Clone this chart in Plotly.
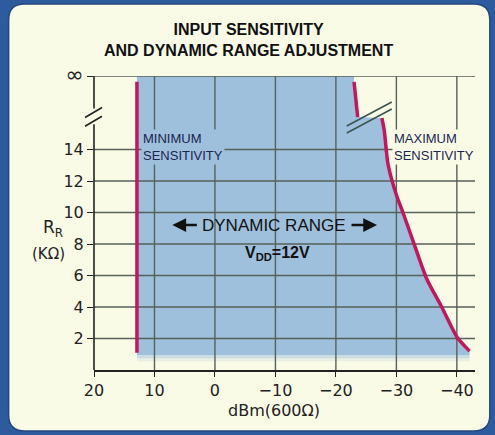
import plotly.graph_objects as go

# ---- data -------------------------------------------------------------
x_ticks = [20, 10, 0, -10, -20, -30, -40]
x_tick_text = ["20", "10", "0", "\u221210", "\u221220", "\u221230", "\u221240"]
y_ticks = [2, 4, 6, 8, 10, 12, 14]
INF = 18.67                      # plotted height of the "infinity" row

# minimum-sensitivity limit (vertical line)
min_dbm = [12.9, 12.9]
min_rr = [1.1, 18.3]

# maximum-sensitivity limit, part above the axis break
max_top_dbm = [-23.0, -23.6]
max_top_rr = [18.3, 16.06]

# maximum-sensitivity limit, part below the axis break
max_dbm = [-27.6, -28.0, -28.6, -30.1, -30.9, -32.7, -35.0, -37.5, -40.0, -42.1]
max_rr = [16.0, 15.2, 13.1, 11.0, 10.2, 8.25, 5.8, 4.0, 2.1, 1.2]

FILL_BOTTOM = 0.95

# ---- geometry ---------------------------------------------------------
W, H = 495, 435
X_RANGE = [20, -43]
Y_RANGE = [0, INF]
ML, MR, MT, MB = 93.5, 19.85, 75.94, 65
PW, PH = W - ML - MR, H - MT - MB


def px(xp):
    return (xp - ML) / PW


def py(yp):
    return (H - MB - yp) / PH


RED = "#c2185b"
FILL = "#9ec0dc"
GRID = "#56615a"
INK = "#222222"
CREAM = "#fafbe7"
NAVY = "#1c2450"

fig = go.Figure()

# shaded dynamic range
fx = [min_dbm[0], max_top_dbm[0]] + max_top_dbm + max_dbm + [max_dbm[-1], min_dbm[0]]
fy = [INF, INF] + max_top_rr + max_rr + [FILL_BOTTOM, FILL_BOTTOM]
fig.add_trace(go.Scatter(x=fx, y=fy, fill="toself", fillcolor=FILL,
                         line=dict(width=0), mode="lines", hoverinfo="skip"))
# soft lower edge of the shading
for lo, hi, a in [(0.75, FILL_BOTTOM, 0.5), (0.55, 0.75, 0.2)]:
    fig.add_trace(go.Scatter(
        x=[min_dbm[0], max_dbm[-1], max_dbm[-1], min_dbm[0]],
        y=[lo, lo, hi, hi], fill="toself",
        fillcolor=f"rgba(158,192,220,{a})", line=dict(width=0),
        mode="lines", hoverinfo="skip"))

# grid drawn over the shading
gx, gy = [], []
for v in x_ticks[1:]:
    gx += [v, v, None]
    gy += [0, INF, None]
for v in y_ticks + [INF]:
    gx += [X_RANGE[0], X_RANGE[1], None]
    gy += [v, v, None]
fig.add_trace(go.Scatter(x=gx, y=gy, mode="lines",
                         line=dict(color=GRID, width=1.4), hoverinfo="skip"))

# limit curves
fig.add_trace(go.Scatter(x=min_dbm, y=min_rr, mode="lines",
                         line=dict(color=RED, width=3.5)))
fig.add_trace(go.Scatter(x=max_top_dbm, y=max_top_rr, mode="lines",
                         line=dict(color=RED, width=3.5)))
fig.add_trace(go.Scatter(x=max_dbm, y=max_rr, mode="lines",
                         line=dict(color=RED, width=3.5, shape="spline", smoothing=0.6)))

shapes = []
# panel with rounded corners
x0p, x1p, y0p, y1p, r = 8, 490, 4, 431, 16
path = (f"M {px(x0p + r)},{py(y0p)} L {px(x1p - r)},{py(y0p)} "
        f"Q {px(x1p)},{py(y0p)} {px(x1p)},{py(y0p + r)} "
        f"L {px(x1p)},{py(y1p - r)} Q {px(x1p)},{py(y1p)} {px(x1p - r)},{py(y1p)} "
        f"L {px(x0p + r)},{py(y1p)} Q {px(x0p)},{py(y1p)} {px(x0p)},{py(y1p - r)} "
        f"L {px(x0p)},{py(y0p + r)} Q {px(x0p)},{py(y0p)} {px(x0p + r)},{py(y0p)} Z")
shapes.append(dict(type="path", xref="paper", yref="paper", path=path,
                   fillcolor=CREAM, line=dict(color="#24477e", width=1.5),
                   layer="below"))

# broken y-axis line
for a, b in [(0, 15.6), (16.6, INF)]:
    shapes.append(dict(type="line", xref="paper", yref="y", x0=0, x1=0, y0=a, y1=b,
                       line=dict(color=INK, width=1.6)))
for yc in [15.8, 16.35]:
    shapes.append(dict(type="line", xref="paper", yref="y",
                       xsizemode="pixel", xanchor=0, x0=-9, x1=8,
                       ysizemode="pixel", yanchor=yc, y0=-5, y1=5,
                       line=dict(color=INK, width=1.6)))
# break marks on the maximum-sensitivity curve
bx = (max_top_dbm[-1] + max_dbm[0]) / 2
by = (max_top_rr[-1] + max_rr[0]) / 2
for off in [-3.5, 3.5]:
    shapes.append(dict(type="line", xref="x", yref="y",
                       xsizemode="pixel", xanchor=bx, x0=-23, x1=22,
                       ysizemode="pixel", yanchor=by, y0=-12 + off, y1=12 + off,
                       line=dict(color="#3a5552", width=1.6)))


def label(xp, yp, text, size, family="Liberation Sans", color="#111",
          xanchor="center", **kw):
    return dict(xref="paper", yref="paper", x=px(xp), y=py(yp), text=text,
                showarrow=False, xanchor=xanchor, yanchor="middle",
                font=dict(family=family, size=size, color=color), **kw)


ann = [
    label(248, 40, "<b>INPUT SENSITIVITY<br>AND DYNAMIC RANGE ADJUSTMENT</b>", 16),
    label(141, 147, "MINIMUM<br>SENSITIVITY", 13, color=NAVY, xanchor="left",
          align="left", bgcolor=FILL, borderpad=1),
    label(392, 147, "MAXIMUM<br>SENSITIVITY", 13, color=NAVY, xanchor="left",
          align="left", bgcolor=CREAM, borderpad=1),
    label(274, 225, "DYNAMIC RANGE", 17),
    label(277, 253, "<b>V<sub>DD</sub>=12V</b>", 16),
    label(52, 228, "R<sub>R</sub>", 17, family="DejaVu Sans", color=INK),
    label(48, 254, "(K\u03a9)", 15, family="DejaVu Sans", color=INK),
    label(274, 411, "dBm(600\u03a9)", 16, family="DejaVu Sans", color=INK),
]
# arrows either side of the range label
for tip, tail in [(172, 198), (377, 350)]:
    ann.append(dict(xref="paper", yref="paper", x=px(tip), y=py(225),
                    ax=tail - tip, ay=0, text="", showarrow=True,
                    arrowhead=2, arrowsize=1.1, arrowwidth=2.5, arrowcolor="#111"))

fig.update_layout(
    width=W, height=H,
    margin=dict(l=ML, r=MR, t=MT, b=MB, pad=0),
    paper_bgcolor="#2d5b9e", plot_bgcolor="rgba(0,0,0,0)",
    showlegend=False, shapes=shapes, annotations=ann,
    xaxis=dict(range=X_RANGE, tickvals=x_ticks, ticktext=x_tick_text,
               showgrid=False, zeroline=False, showline=True, linecolor=INK,
               linewidth=1.6, ticks="outside", ticklen=5, tickcolor=INK,
               tickwidth=1.4, tickfont=dict(family="DejaVu Sans", size=16, color=INK)),
    yaxis=dict(range=Y_RANGE, tickvals=y_ticks + [INF],
               ticktext=[str(v) for v in y_ticks] +
               ["<span style='font-size:22px'>\u221e</span>"],
               showgrid=False, zeroline=False, showline=False,
               ticks="outside", ticklen=6, tickcolor=INK, tickwidth=1.4,
               tickfont=dict(family="DejaVu Sans", size=16, color=INK)),
)

fig.write_html("out.html")
